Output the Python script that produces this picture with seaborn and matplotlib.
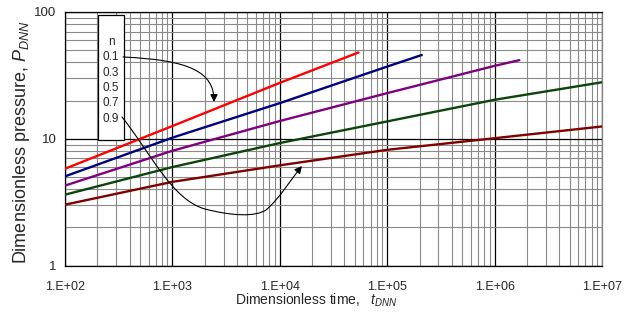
import numpy as np
import pandas as pd
import matplotlib
matplotlib.use("Agg")
import matplotlib.pyplot as plt
import seaborn as sns
from matplotlib.patches import FancyArrowPatch, Rectangle
from matplotlib.path import Path
from matplotlib.ticker import FixedLocator, FuncFormatter, NullFormatter, LogLocator

# Type-curve data: dimensionless pressure vs dimensionless time for each flow index n
t_n01 = [1e2, 1e3, 1e4, 5.4e4]
p_n01 = [5.8, 12.6, 27.6, 47.9]

t_n03 = [1e2, 1e3, 1e4, 1e5, 2.1e5]
p_n03 = [5.05, 10.2, 19.1, 37.1, 45.8]

t_n05 = [1e2, 1e3, 1e4, 1e5, 1e6, 1.7e6]
p_n05 = [4.27, 8.04, 13.8, 22.9, 37.6, 41.7]

t_n07 = [1e2, 1e3, 1e4, 1e5, 1e6, 1e7]
p_n07 = [3.62, 5.98, 9.25, 13.7, 20.3, 27.9]

t_n09 = [1e2, 1e3, 1e4, 1e5, 1e6, 1e7]
p_n09 = [3.02, 4.57, 6.17, 8.18, 10.1, 12.5]

n_values = ["0.1", "0.3", "0.5", "0.7", "0.9"]
line_colors = ["#ff0000", "#000080", "#800080", "#0b450b", "#800000"]

x_ticks = [1e2, 1e3, 1e4, 1e5, 1e6, 1e7]
y_ticks = [1, 10, 100]

frames = []
for n, t, p in zip(n_values, [t_n01, t_n03, t_n05, t_n07, t_n09],
                   [p_n01, p_n03, p_n05, p_n07, p_n09]):
    frames.append(pd.DataFrame({"t": t, "p": p, "n": n}))
df = pd.concat(frames, ignore_index=True)

sns.set_style("white")
plt.rcParams["font.family"] = ["Liberation Sans", "DejaVu Sans"]
plt.rcParams["mathtext.fontset"] = "custom"
plt.rcParams["mathtext.rm"] = "Liberation Sans"
plt.rcParams["mathtext.it"] = "Liberation Sans:italic"

W, H = 630, 322
fig = plt.figure(figsize=(W / 100, H / 100), dpi=100)
L, R, T, B = 65, 602, 12, 265.5
ax = fig.add_axes([L / W, 1 - B / H, (R - L) / W, (B - T) / H])

sns.lineplot(data=df, x="t", y="p", hue="n", palette=line_colors,
             linewidth=1.7, legend=False, ax=ax, zorder=3)

ax.set_xscale("log")
ax.set_yscale("log")
ax.set_xlim(1e2, 1e7)
ax.set_ylim(1, 100)

ax.xaxis.set_major_locator(FixedLocator(x_ticks))
ax.yaxis.set_major_locator(FixedLocator(y_ticks))
ax.xaxis.set_minor_locator(LogLocator(base=10, subs=np.arange(2, 10)))
ax.yaxis.set_minor_locator(LogLocator(base=10, subs=np.arange(2, 10)))
ax.xaxis.set_major_formatter(FuncFormatter(lambda v, _: "1.E+%02d" % round(np.log10(v))))
ax.yaxis.set_major_formatter(FuncFormatter(lambda v, _: "%g" % v))
ax.xaxis.set_minor_formatter(NullFormatter())
ax.yaxis.set_minor_formatter(NullFormatter())

ax.grid(which="minor", color="#8a8a8a", linewidth=0.8, zorder=1)
ax.grid(which="major", color="black", linewidth=0.9, zorder=2)
ax.set_axisbelow(True)

ax.tick_params(which="major", direction="out", length=4, width=0.8, color="black",
               labelsize=9)
ax.tick_params(axis="x", which="major", pad=7)
ax.tick_params(axis="y", which="major", pad=2, labelsize=9.5)
ax.tick_params(which="minor", direction="out", length=2, width=0.6, color="#555555")
for side, sp in ax.spines.items():
    sp.set_color("black" if side in ("left", "bottom", "top") else "#808080")
    sp.set_linewidth(0.9)

ax.set_xlabel("")
ax.set_ylabel("")
fig.text(316 / W, 1 - 300 / H, "Dimensionless time,   $\\mathit{t}_{\\mathit{DNN}}$",
         ha="center", va="center", fontsize=10)
fig.text(22 / W, 1 - 142 / H, "Dimensionless pressure, $\\mathit{P}_{\\mathit{DNN}}$",
         ha="center", va="center", rotation=90, fontsize=13)


def px(x, y):
    """Canvas pixel position -> axes fraction."""
    return ((x - L) / (R - L), (B - y) / (B - T))


# Label box listing the flow indices
x0, y0 = px(97.7, 140)
x1, y1 = px(124, 15)
ax.add_patch(Rectangle((x0, y0), x1 - x0, y1 - y0, transform=ax.transAxes,
                       facecolor="white", edgecolor="black", linewidth=0.9,
                       zorder=5, clip_on=False))
for i, label in enumerate(["n"] + n_values):
    tx, ty = px(111, 42 + i * 15.3)
    ax.text(tx, ty, label, transform=ax.transAxes, ha="center", va="center",
            fontsize=8.5, zorder=6)

# Curved arrows from the labels to the first and last curves
arrow_top = Path([px(123, 57), px(190, 60), px(214, 72), px(214, 102)],
                 [Path.MOVETO, Path.CURVE4, Path.CURVE4, Path.CURVE4])
arrow_bottom = Path([px(122, 117), px(150, 152), px(172, 200), px(205, 209),
                     px(232, 216), px(255, 217), px(266, 210),
                     px(280, 198), px(292, 178), px(302, 166)],
                    [Path.MOVETO, Path.CURVE4, Path.CURVE4, Path.CURVE4,
                     Path.CURVE4, Path.CURVE4, Path.CURVE4,
                     Path.CURVE4, Path.CURVE4, Path.CURVE4])
for path in (arrow_top, arrow_bottom):
    ax.add_patch(FancyArrowPatch(path=path, arrowstyle="-|>", mutation_scale=11,
                                 color="black", linewidth=0.8,
                                 transform=ax.transAxes, zorder=6))

fig.savefig("out.png", dpi=100)
